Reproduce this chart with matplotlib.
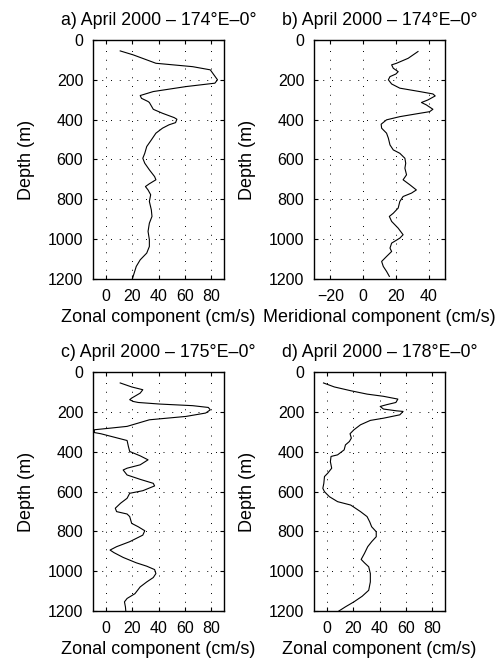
import numpy as np
import matplotlib.pyplot as plt

plt.rcParams['font.family'] = ['Liberation Sans', 'DejaVu Sans']

# profiles: (velocity cm/s, depth m)
a_vel = [10.75, 20.75, 38, 66, 79.5, 85, 83, 61, 36, 26, 27, 32, 33, 36, 37, 43, 52, 54, 53, 48,
         43, 38, 34.5, 31, 29.5, 28, 29.5, 33, 37, 38, 33, 30, 32, 34, 33, 34.5, 35, 33, 32, 33,
         33, 31, 26, 23, 21, 20]
a_dep = [55, 75, 117, 134, 150, 200, 217, 234, 259, 279, 293, 309, 314, 348, 351, 368, 390, 398,
         415, 426, 443, 468, 502, 535, 569, 594, 619, 652, 686, 702, 722, 736, 753, 777, 811, 853,
         886, 920, 961, 1003, 1037, 1070, 1104, 1137, 1179, 1200]

b_vel = [33.5, 27.5, 20.4, 17.4, 18.4, 21.4, 20, 16.4, 15.4, 17.4, 22.4, 34.5, 42.6, 44, 39.6, 35.6,
         38.6, 42.6, 40.6, 32.5, 22.4, 14.3, 11, 11.3, 14.3, 15.4, 16.4, 18.4, 22.4, 25.5, 26, 25.5,
         26.5, 24.4, 28.5, 32.5, 29.5, 24.4, 22.4, 21.4, 18.4, 16, 17.4, 21.4, 24.4, 22.4, 17.4,
         16.4, 17.4, 14.3, 11.3, 12.3, 14.3, 16]
b_dep = [58, 92, 117, 125, 142, 159, 171, 184, 200, 221, 242, 259, 271, 281, 301, 314, 326, 348,
         360, 371, 385, 401, 423, 443, 468, 493, 527, 552, 569, 594, 619, 644, 677, 702, 727, 753,
         769, 786, 811, 844, 870, 886, 911, 945, 978, 995, 1020, 1045, 1062, 1087, 1112, 1137,
         1162, 1187]

c_vel = [10.75, 19.5, 28, 26, 19.5, 18, 20.75, 24.5, 41, 66, 78, 79.5, 76, 61, 33, 16, 3, -9, -9,
         -4, 6, 16, 17, 18, 26, 32, 26, 16, 13, 16, 26, 36, 37, 28, 18, 16, 11, 7, 8, 16, 18, 19.5,
         24.5, 29.5, 28, 18, 8, 3, 6, 13, 23, 31, 37, 38, 36, 31, 26, 22, 16, 14, 14.75, 15]
c_dep = [55, 75, 89, 106, 131, 139, 148, 153, 161, 169, 178, 190, 206, 223, 240, 273, 282, 290,
         304, 310, 327, 344, 374, 399, 421, 441, 466, 483, 492, 517, 539, 559, 572, 596, 609, 634,
         659, 684, 701, 713, 726, 760, 777, 797, 819, 852, 877, 894, 907, 931, 958, 975, 992,
         1012, 1032, 1054, 1079, 1113, 1137, 1154, 1180, 1200]

d_vel = [-2.75, 5.5, 18, 30.5, 43, 54, 52.5, 45.5, 40.5, 43, 53, 58, 55.5, 43, 33, 25.5, 20.5,
         17.5, 18.5, 17, 14, 13, 8, 3, 2.5, 3.5, 0.5, -2, -2.5, -3.25, -2, 1.75, 8, 18, 25.5, 30.5,
         32.5, 34, 37.5, 37.5, 34, 31, 28.5, 26, 28.5, 31.75, 33, 33, 31.75, 26.75, 20.5, 14, 9]
d_dep = [55, 75, 94, 111, 122, 136, 153, 164, 173, 186, 195, 198, 215, 232, 243, 265, 290, 310,
         332, 349, 366, 391, 416, 424, 450, 483, 508, 525, 559, 584, 601, 626, 651, 668, 701, 726,
         752, 777, 802, 827, 852, 877, 911, 941, 958, 978, 1012, 1054, 1096, 1126, 1154, 1179,
         1200]

titles = ['a) April 2000 \u2013 174\u00b0E\u20130\u00b0', 'b) April 2000 \u2013 174\u00b0E\u20130\u00b0',
          'c) April 2000 \u2013 175\u00b0E\u20130\u00b0', 'd) April 2000 \u2013 178\u00b0E\u20130\u00b0']
xlabels = ['Zonal component (cm/s)', 'Meridional component (cm/s)',
           'Zonal component (cm/s)', 'Zonal component (cm/s)']
xlims = [(-10, 90), (-30, 50), (-10, 90), (-10, 90)]
xticks = [[0, 20, 40, 60, 80], [-20, 0, 20, 40], [0, 20, 40, 60, 80], [0, 20, 40, 60, 80]]
depth_ticks = [0, 200, 400, 600, 800, 1000, 1200]

profiles = [(a_vel, a_dep), (b_vel, b_dep), (c_vel, c_dep), (d_vel, d_dep)]

fig = plt.figure(figsize=(5.02, 6.65), dpi=100)
# axes boxes in figure fraction
boxes = [[0.1853, 0.5805, 0.261, 0.3594], [0.6255, 0.5805, 0.261, 0.3594],
         [0.1853, 0.0812, 0.261, 0.3594], [0.6255, 0.0812, 0.261, 0.3594]]

for i in range(4):
    ax = fig.add_axes(boxes[i])
    vel, dep = profiles[i]
    ax.plot(vel, dep, color='black', lw=0.8)
    ax.set_xlim(xlims[i])
    ax.set_ylim(1200, 0)
    ax.set_xticks(xticks[i])
    ax.set_yticks(depth_ticks)
    ax.grid(True, color='black', linestyle=(0, (1, 8)), lw=0.7)
    ax.tick_params(direction='in', top=True, right=True, length=3, width=0.8,
                   pad=7, labelsize=11.5)
    for s in ax.spines.values():
        s.set_linewidth(1.0)
    ax.set_title(titles[i], fontsize=12.8, pad=11)
    ax.set_xlabel(xlabels[i], fontsize=13, labelpad=4)
    ax.set_ylabel('Depth (m)', fontsize=13, labelpad=9)

plt.savefig('out.png', dpi=100)
